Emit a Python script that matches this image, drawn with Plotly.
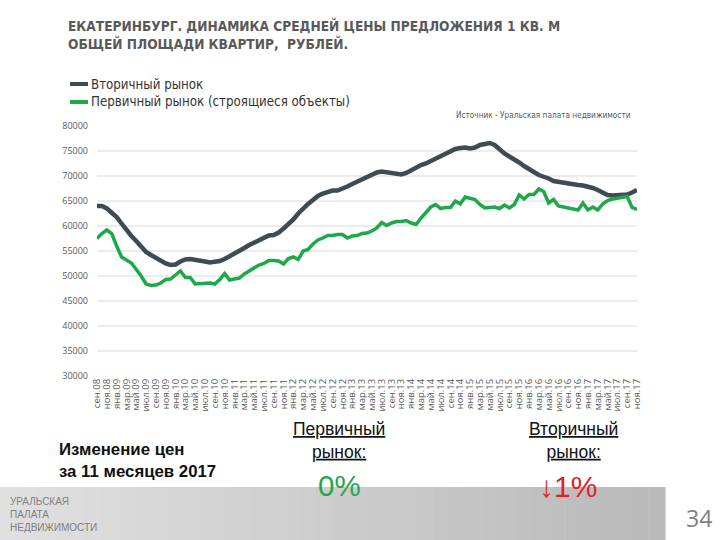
import plotly.graph_objects as go

months_ru = ["янв", "фев", "мар", "апр", "май", "июн", "июл", "авг", "сен", "окт", "ноя", "дек"]
month_labels = []
for yr in range(2008, 2018):
    for mi, m in enumerate(months_ru):
        if (yr == 2008 and mi < 8) or (yr == 2017 and mi > 10):
            continue
        month_labels.append(f"{m}.{str(yr)[2:]}")

secondary = [
    64000, 64000, 63500, 62700, 61800, 60500, 59200, 58000, 57000, 56000, 54800, 54200,
    53600, 53000, 52500, 52200, 52300, 52900, 53300, 53400, 53300, 53200, 52900, 52700,
    52800, 53000, 53400, 53900, 54500, 55100, 55600, 56200, 56700, 57200, 57700, 58100,
    58200, 58700, 59500, 60300, 61300, 62500, 63600, 64400, 65200, 66000, 66500, 66900,
    67100, 67100, 67400, 67900, 68400, 68900, 69400, 69900, 70300, 70700, 70900, 70800,
    70600, 70600, 70300, 70600, 71200, 71700, 72200, 72500, 73000, 73400, 74100, 74600,
    75000, 75400, 75600, 75700, 75500, 75700, 76200, 76300, 76600, 76200, 75300, 74500,
    73900, 73400, 72700, 72000, 71300, 70800, 70200, 69900, 69500, 69000, 68800, 68600,
    68500, 68400, 68200, 68100, 67900, 67600, 67200, 66700, 66200, 66100, 66100, 66100,
    66300, 66700, 67200,
]
primary = [
    57500, 58500, 59200, 58500, 56000, 53800, 53200, 52600, 51300, 50000, 48400, 48100,
    48200, 48600, 49300, 49400, 50200, 51000, 49700, 49700, 48400, 48500, 48500, 48600,
    48400, 49300, 50500, 49200, 49400, 49600, 50400, 51000, 51500, 52200, 52500, 53100,
    53100, 53000, 52400, 53500, 53800, 53300, 55000, 55300, 56400, 57200, 57600, 58100,
    58100, 58300, 58300, 57600, 58000, 58100, 58500, 58600, 59000, 59600, 60700, 60100,
    60600, 60900, 60900, 61100, 60600, 60300, 61600, 62800, 63800, 64300, 63500, 63700,
    63700, 65000, 64400, 65800, 65600, 65300, 64300, 63600, 63700, 63800, 63500, 64200,
    63600, 64300, 66200, 65400, 66300, 66300, 67400, 66900, 64600, 65300, 64000, 63800,
    63700, 63500, 63200, 64600, 63200, 63800, 63200, 64400, 65100, 65400, 65600, 65800,
    65900, 63700, 63300,
]
y_ticks = [30000, 35000, 40000, 45000, 50000, 55000, 60000, 65000, 70000, 75000, 80000]
tick_labels = month_labels[::2]

series_names = ["Вторичный рынок", "Первичный рынок (строящиеся объекты)"]
title_text = "ЕКАТЕРИНБУРГ. ДИНАМИКА СРЕДНЕЙ ЦЕНЫ ПРЕДЛОЖЕНИЯ 1 КВ. М<br>ОБЩЕЙ ПЛОЩАДИ КВАРТИР,  РУБЛЕЙ."
source_text = "Источник - Уральская палата недвижимости"

GRAY = "#3f4b53"
GREEN = "#1fa84a"

# plot area in pixels
L, R, T, B = 97, 637, 126, 376
W, H = 720, 540

def px(x):
    return (x - L) / (R - L)

def py(y):
    return (B - y) / (B - T)

fig = go.Figure()
fig.add_trace(go.Scatter(x=month_labels, y=secondary, mode="lines", name=series_names[0],
                         line=dict(color=GRAY, width=4.5), showlegend=False))
fig.add_trace(go.Scatter(x=month_labels, y=primary, mode="lines", name=series_names[1],
                         line=dict(color=GREEN, width=3.5), showlegend=False))

shapes = []
# bottom gray band approximated with strips
n = 40
x0b, x1b, yb = 0, 665, 487
for i in range(n):
    t = i / (n - 1)
    c = int(224 - 38 * t)
    shapes.append(dict(type="rect", xref="paper", yref="paper",
                       x0=px(x0b + (x1b - x0b) * i / n), x1=px(x0b + (x1b - x0b) * (i + 1) / n + 0.5),
                       y0=py(541), y1=py(yb), fillcolor=f"rgb({c},{c},{c})", line=dict(width=0),
                       layer="below"))
# legend lines
shapes.append(dict(type="line", xref="paper", yref="paper", x0=px(70), x1=px(88), y0=py(84), y1=py(84),
                   line=dict(color=GRAY, width=4)))
shapes.append(dict(type="line", xref="paper", yref="paper", x0=px(70), x1=px(88), y0=py(102), y1=py(102),
                   line=dict(color=GREEN, width=4)))

ann = []
ann.append(dict(text=f"<b>{title_text}</b>", x=px(66), y=py(15), xref="paper", yref="paper",
                xanchor="left", yanchor="top", align="left", showarrow=False,
                font=dict(family="DejaVu Sans Condensed", size=13.6, color="#595959")))
ann.append(dict(text=series_names[0], x=px(89), y=py(84), xref="paper", yref="paper",
                xanchor="left", yanchor="middle", showarrow=False,
                font=dict(family="DejaVu Sans Condensed", size=13.2, color="#333333")))
ann.append(dict(text=series_names[1], x=px(89), y=py(102), xref="paper", yref="paper",
                xanchor="left", yanchor="middle", showarrow=False,
                font=dict(family="DejaVu Sans Condensed", size=13.2, color="#333333")))
ann.append(dict(text=source_text, x=px(633), y=py(115), xref="paper", yref="paper",
                xanchor="right", yanchor="middle", showarrow=False,
                font=dict(family="DejaVu Sans Condensed", size=8.2, color="#595959")))
ann.append(dict(text="<b>Изменение цен<br>за 11 месяцев 2017</b>", x=px(57), y=py(460), xref="paper", yref="paper",
                xanchor="left", yanchor="middle", align="left", showarrow=False,
                font=dict(family="Liberation Sans", size=16.8, color="#111111")))
ann.append(dict(text="<u>Первичный</u><br><u>рынок:</u>", x=px(339), y=py(440), xref="paper", yref="paper",
                xanchor="center", yanchor="middle", align="center", showarrow=False,
                font=dict(family="Liberation Sans", size=17.5, color="#111111")))
ann.append(dict(text="<u>Вторичный</u><br><u>рынок:</u>", x=px(573), y=py(440), xref="paper", yref="paper",
                xanchor="center", yanchor="middle", align="center", showarrow=False,
                font=dict(family="Liberation Sans", size=17.5, color="#111111")))
ann.append(dict(text="0%", x=px(339), y=py(485), xref="paper", yref="paper",
                xanchor="center", yanchor="middle", showarrow=False,
                font=dict(family="Liberation Sans", size=29.5, color="#1fa84a")))
ann.append(dict(text="↓1%", x=px(568), y=py(486), xref="paper", yref="paper",
                xanchor="center", yanchor="middle", showarrow=False,
                font=dict(family="Liberation Sans", size=30, color="#e31e24")))
ann.append(dict(text="УРАЛЬСКАЯ<br>ПАЛАТА<br>НЕДВИЖИМОСТИ", x=px(8), y=py(514), xref="paper", yref="paper",
                xanchor="left", yanchor="middle", align="left", showarrow=False,
                font=dict(family="Liberation Sans", size=10, color="#7f7f7f")))
ann.append(dict(text="34", x=px(699), y=py(518), xref="paper", yref="paper",
                xanchor="center", yanchor="middle", showarrow=False,
                font=dict(family="Open Sans", size=23, color="#7f7f7f")))

fig.update_layout(
    width=W, height=H,
    margin=dict(l=L, r=W - R, t=T, b=H - B),
    paper_bgcolor="white", plot_bgcolor="white",
    shapes=shapes, annotations=ann,
    xaxis=dict(type="category", range=[0, len(month_labels) - 1], tickmode="array",
               tickvals=tick_labels, ticktext=tick_labels, tickangle=-90,
               showgrid=False, zeroline=False, showline=False, ticks="",
               tickfont=dict(family="Open Sans", size=9.5, color="#595959")),
    yaxis=dict(range=[30000, 80000], tickvals=y_ticks, ticktext=[str(v) for v in y_ticks],
               showgrid=True, gridcolor="#ececec", gridwidth=1.5, zeroline=False,
               showline=False, ticks="", ticklabelstandoff=8,
               tickfont=dict(family="Open Sans", size=9, color="#595959")),
)

fig.write_html("out.html", config={"displayModeBar": False},
               post_script="document.body.style.margin='0';")
